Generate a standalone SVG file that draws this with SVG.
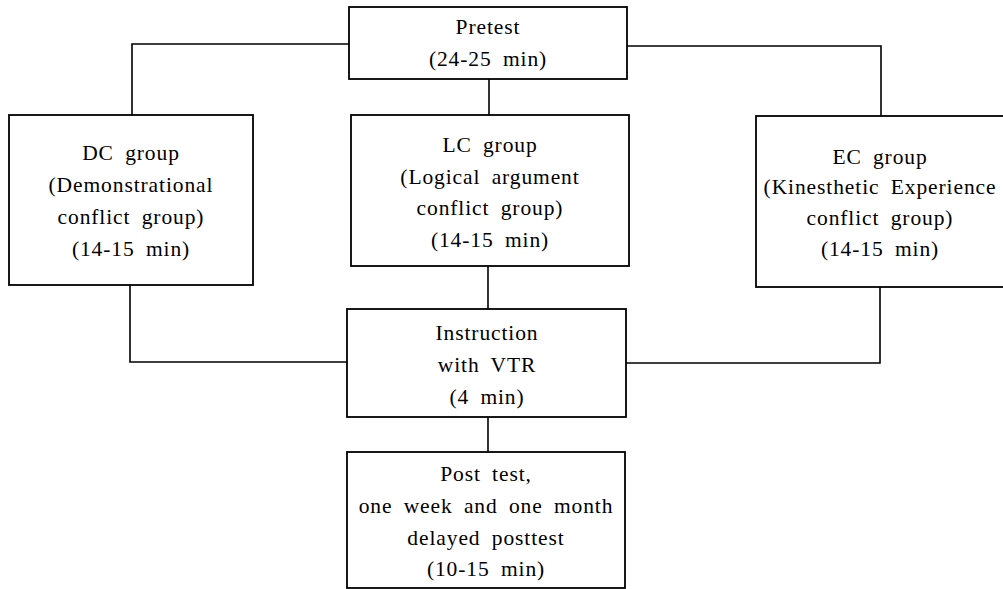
<svg xmlns="http://www.w3.org/2000/svg" width="1003" height="589" viewBox="0 0 1003 589">
<style>
rect.box{fill:#fff;stroke:#000;stroke-width:1.8}
.conn path{fill:none;stroke:#000;stroke-width:1.6}
text{font-family:"Liberation Serif","DejaVu Serif",serif;font-size:21.5px;letter-spacing:0.9px;word-spacing:5px;text-anchor:middle;fill:#000}
</style>
<rect width="1003" height="589" fill="#fff"/>
<g class="conn">
<path d="M349 44 H132 V115"/>
<path d="M627 46 H881 V116"/>
<path d="M489 79 V115"/>
<path d="M130 285 V362 H347"/>
<path d="M880 287 V363 H626"/>
<path d="M488 266 V309"/>
<path d="M488 417 V452"/>
</g>
<g id="pretest">
<rect class="box" x="349" y="7" width="278" height="72"/>
<text x="488" y="34">Pretest</text>
<text x="488" y="66">(24-25 min)</text>
</g>
<g id="dc">
<rect class="box" x="9" y="115" width="244" height="170"/>
<text x="131" y="160">DC group</text>
<text x="131" y="192">(Demonstrational</text>
<text x="131" y="224">conflict group)</text>
<text x="131" y="256">(14-15 min)</text>
</g>
<g id="lc">
<rect class="box" x="351" y="115" width="278" height="151"/>
<text x="490" y="152">LC group</text>
<text x="490" y="184">(Logical argument</text>
<text x="490" y="215">conflict group)</text>
<text x="490" y="247">(14-15 min)</text>
</g>
<g id="ec">
<rect class="box" x="756" y="116" width="260" height="171"/>
<text x="880" y="164">EC group</text>
<text x="880" y="194">(Kinesthetic Experience</text>
<text x="880" y="225">conflict group)</text>
<text x="880" y="256">(14-15 min)</text>
</g>
<g id="instruction">
<rect class="box" x="347" y="309" width="279" height="108"/>
<text x="487" y="340">Instruction</text>
<text x="487" y="372">with VTR</text>
<text x="487" y="404">(4 min)</text>
</g>
<g id="posttest">
<rect class="box" x="347" y="452" width="278" height="136"/>
<text x="486" y="481">Post test,</text>
<text x="486" y="513">one week and one month</text>
<text x="486" y="545">delayed posttest</text>
<text x="486" y="576">(10-15 min)</text>
</g>
</svg>
